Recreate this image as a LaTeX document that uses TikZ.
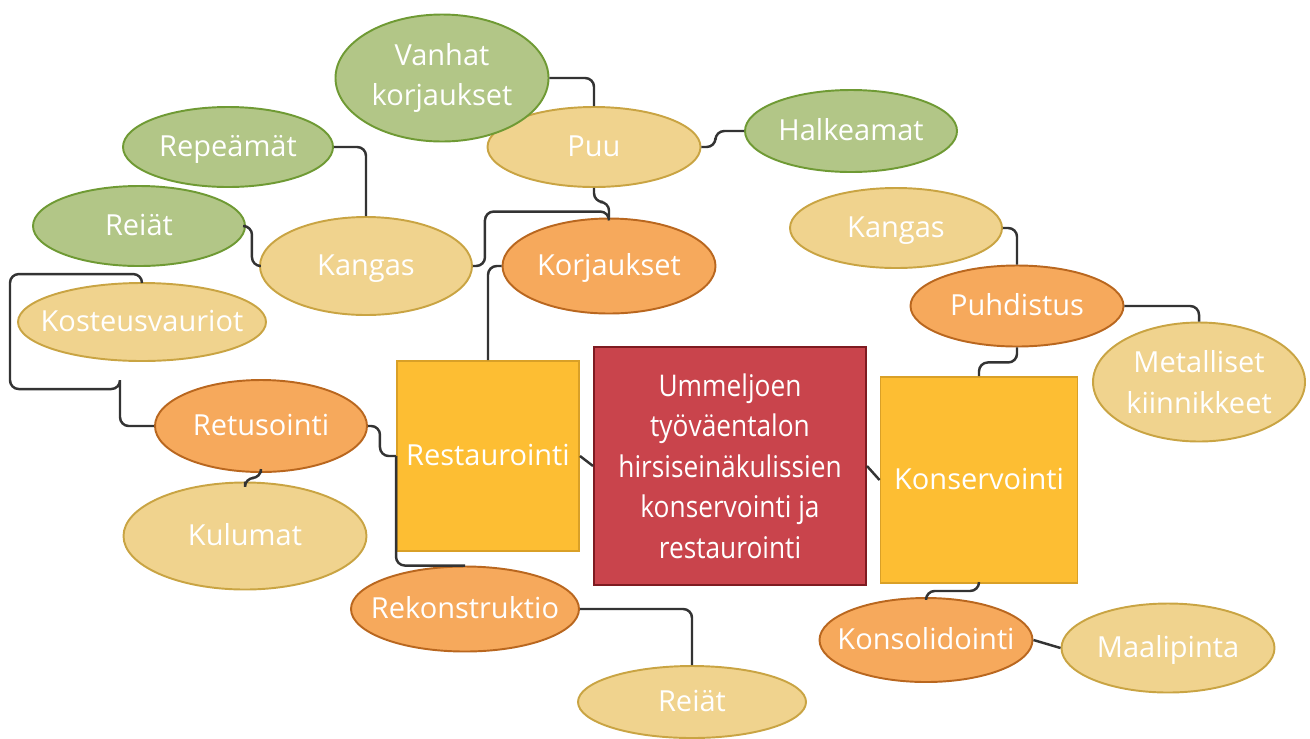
\documentclass[tikz,border=0pt]{standalone}
\usepackage{fontspec}
\setmainfont{Open Sans}
\newfontfamily\rootfont[FakeStretch=0.88]{Open Sans}
\usetikzlibrary{shapes.geometric}

\definecolor{greenfill}{HTML}{B2C687}
\definecolor{greenline}{HTML}{6F9A34}
\definecolor{tanfill}{HTML}{F0D38E}
\definecolor{tanline}{HTML}{C9A443}
\definecolor{orfill}{HTML}{F6A95C}
\definecolor{orline}{HTML}{B9671F}
\definecolor{yelfill}{HTML}{FDBE33}
\definecolor{yelline}{HTML}{D9A027}
\definecolor{redfill}{HTML}{C9444C}
\definecolor{redline}{HTML}{7E1B21}
\definecolor{wire}{HTML}{333333}

\tikzset{
  sz/.style n args={2}{minimum width=#1*0.02cm, minimum height=#2*0.02cm},
  oneline/.style={text height=1.1em, text depth=0.07em},
  bubble/.style={ellipse, inner sep=-14pt, line width=1.1pt, text=white,
    align=center, font=\fontsize{16.5}{23}\selectfont},
  leafgreen/.style={bubble, fill=greenfill, draw=greenline},
  leaftan/.style={bubble, fill=tanfill, draw=tanline},
  midorange/.style={bubble, fill=orfill, draw=orline},
  branchbox/.style={rectangle, inner sep=0pt, line width=1.1pt, text=white,
    fill=yelfill, draw=yelline, font=\fontsize{16.5}{23}\selectfont},
  rootbox/.style={rectangle, inner sep=0pt, line width=1.1pt, text=white,
    fill=redfill, draw=redline, align=center, font=\rootfont\fontsize{17}{23}\selectfont},
  conn/.style={draw=wire, line width=1.4pt, rounded corners=5pt}
}

\begin{document}
\begin{tikzpicture}[x=0.02cm, y=-0.02cm]
\useasboundingbox (0,0) rectangle (1310,738);

\node[rootbox, sz={272}{238}] (root) at (730,466) {Ummeljoen\\työväentalon\\hirsiseinäkulissien\\konservointi ja\\restaurointi};
\node[branchbox, oneline, sz={182}{190}] (rest) at (488,456) {Restaurointi};
\node[branchbox, oneline, sz={197}{206}] (kons) at (979,480) {Konservointi};

\node[midorange, oneline, sz={213}{95}] (korj) at (609,266) {Korjaukset};
\node[midorange, oneline, sz={212}{92}] (retu) at (261,426) {Retusointi};
\node[midorange, oneline, sz={228}{85}] (rekon) at (465,609) {Rekonstruktio};
\node[midorange, oneline, sz={213}{81}] (puhd) at (1017,306) {Puhdistus};
\node[midorange, oneline, sz={213}{84}] (konso) at (926,640) {Konsolidointi};

\node[leaftan, oneline, sz={213}{80}] (puu) at (594,147) {Puu};
\node[leaftan, oneline, sz={212}{98}] (kangasL) at (366,266) {Kangas};
\node[leaftan, oneline, sz={248}{78}] (kost) at (142,322) {Kosteusvauriot};
\node[leaftan, oneline, sz={243}{107}] (kulu) at (245,536) {Kulumat};
\node[leaftan, oneline, sz={228}{72}] (reiatB) at (692,702) {Reiät};
\node[leaftan, oneline, sz={212}{80}] (kangasR) at (896,228) {Kangas};
\node[leaftan, sz={212}{119}] (metal) at (1199,382) {Metalliset\\kiinnikkeet};
\node[leaftan, oneline, sz={213}{89}] (maali) at (1168,648) {Maalipinta};

\node[leafgreen, sz={213}{127}] (vanh) at (442,78) {Vanhat\\korjaukset};
\node[leafgreen, oneline, sz={212}{82}] (halk) at (851,131) {Halkeamat};
\node[leafgreen, oneline, sz={210}{80}] (repe) at (228,147) {Repeämät};
\node[leafgreen, oneline, sz={212}{80}] (reiatG) at (139,226) {Reiät};

\draw[conn] (vanh.east) -| (puu.north);
\draw[conn] (puu.south) -- ++(0,14) -| (korj.north);
\draw[conn] (puu.east) -- ++(14,0) |- (halk.west);
\draw[conn] (repe.east) -| (kangasL.north);
\draw[conn] (reiatG.east) -- ++(6,0) |- (kangasL.west);
\draw[conn] (kangasL.east) -- ++(12,0) |- ([yshift=0.12cm]korj.north) -- (korj.north);
\draw[conn] (korj.west) -| (rest.north);
\draw[conn] (kost.north) -- ++(0,-8) -| ++(-132,115) -| ++(110,0) |- (retu.west);
\draw[conn] (retu.east) -- ++(12,0) |- (rest.west);
\draw[conn] (retu.south) -- ++(0,5) -| (kulu.north);
\draw[conn] (rest.west) |- (rekon.north);
\draw[conn] (rekon.east) -| (reiatB.north);
\draw[conn] (rest.east) -- (root.west);
\draw[conn] (root.east) -- (kons.west);
\draw[conn] (kangasR.east) -| (puhd.north);
\draw[conn] (puhd.east) -| (metal.north);
\draw[conn] (puhd.south) -- ++(0,15) -| (kons.north);
\draw[conn] (kons.south) -- ++(0,7) -| (konso.north);
\draw[conn] (konso.east) -- (maali.west);
\end{tikzpicture}
\end{document}
